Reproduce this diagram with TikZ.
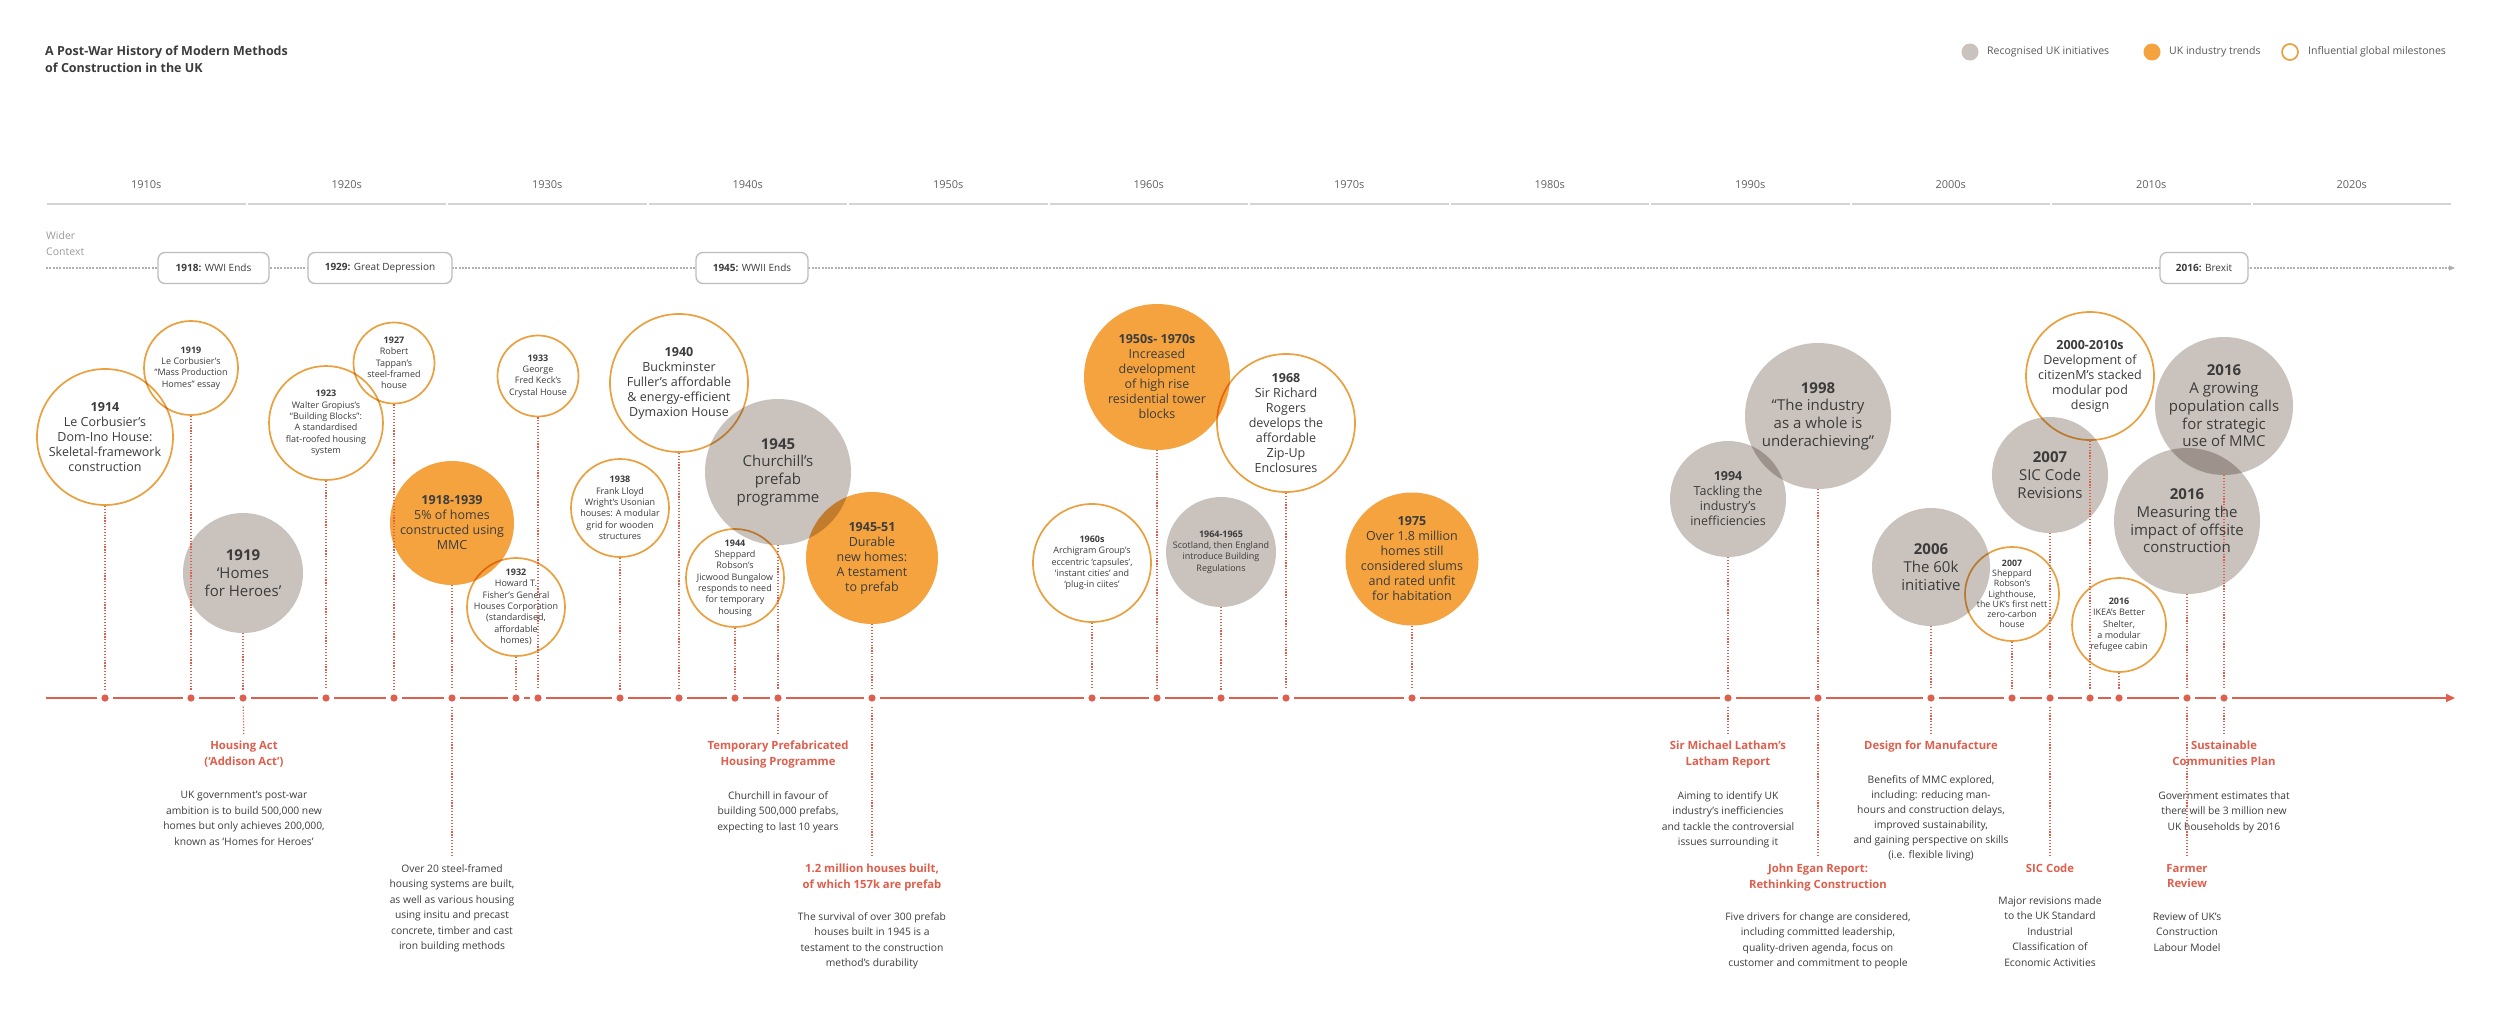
\documentclass[tikz,border=0pt]{standalone}
\usepackage{fontspec}
\setmainfont{Open Sans}
\usetikzlibrary{arrows.meta}
\definecolor{org}{HTML}{F5A33F}
\definecolor{orgl}{HTML}{EBA040}
\definecolor{gry}{HTML}{C9C2BD}
\definecolor{rd}{HTML}{DE5F4D}
\definecolor{txt}{HTML}{3C3C3C}
\definecolor{lgry}{HTML}{D4D4D4}
\definecolor{mgry}{HTML}{9C9C9C}
\definecolor{bgry}{HTML}{BDBDBD}
\tikzset{
  oc/.style={circle, draw=orgl, line width=1.7pt, fill=white, inner sep=0pt},
  fc/.style={circle, fill=org, inner sep=0pt},
  gc/.style={circle, fill=gry, inner sep=0pt},
  tS/.style={align=center, text=txt, inner sep=0pt, font=\fontsize{9}{11.3}\selectfont},
  tM/.style={align=center, text=txt, inner sep=0pt, font=\fontsize{12.5}{15}\selectfont},
  tL/.style={align=center, text=txt, inner sep=0pt, font=\fontsize{15}{17.7}\selectfont},
  dl/.style={rd, line width=1.2pt, dash pattern=on 1.2pt off 1.7pt},
  lab/.style={align=center, text=rd, inner sep=0pt, anchor=north, font=\bfseries\fontsize{11.3}{15.5}\selectfont},
  body/.style={align=center, text=txt, inner sep=0pt, anchor=north, font=\fontsize{10.3}{15.5}\selectfont},
  ctxbox/.style={draw=bgry, line width=1.3pt, fill=white, rounded corners=7pt, minimum height=31pt, inner sep=0pt, text=txt, font=\fontsize{10}{12}\selectfont},
  leg/.style={anchor=west, inner sep=0pt, text=txt!85, font=\fontsize{10.5}{12}\selectfont},
}
\begin{document}
\begin{tikzpicture}[x=1pt,y=-1pt]
\fill[white] (0,0) rectangle (2500,1031);
\useasboundingbox (0,0) rectangle (2500,1031);

% title
\node[anchor=north west, align=left, inner sep=0pt, text=txt, font=\bfseries\fontsize{12.5}{17}\selectfont] (title) at (45,46) {A Post-War History of Modern Methods\\of Construction in the UK};

% legend
\node[gc, minimum size=17pt] (lg1) at (1970,52) {};
\node[leg] (lt1) at (1987,52) {Recognised UK initiatives};
\node[fc, minimum size=17pt] (lg2) at (2152,52) {};
\node[leg] (lt2) at (2169,52) {UK industry trends};
\node[oc, minimum size=16pt] (lg3) at (2290,52) {};
\node[leg] (lt3) at (2308,52) {Influential global milestones};

% decades
\foreach \i/\d in {0/1910s,1/1920s,2/1930s,3/1940s,4/1950s,5/1960s,6/1970s,7/1980s,8/1990s,9/2000s,10/2010s,11/2020s}{
  \node[inner sep=0pt, text=txt!80, font=\fontsize{11}{13}\selectfont] (dec\i) at ({146.25+200.5*\i},185) {\d};
  \draw[lgry, line width=2.2pt] ({46+200.5*\i+1},204) -- ({46+200.5*(\i+1)-1},204);
}

% wider context
\node[anchor=north west, align=left, inner sep=0pt, text=mgry, font=\fontsize{10.5}{16}\selectfont] (wc) at (46,231) {Wider\\Context};
\coordinate (cs) at (46,268);
\coordinate (ce) at (2455,268);
\draw[mgry!80, line width=1.1pt, dash pattern=on 2pt off 1.3pt, -{Triangle[length=6pt,width=5pt]}] (cs) -- (ce);
\node[ctxbox, minimum width=111pt] (w1918) at (213.5,268) {\textbf{1918:} WWI Ends};
\node[ctxbox, minimum width=144pt] (w1929) at (380,268) {\textbf{1929:} Great Depression};
\node[ctxbox, minimum width=112pt] (w1945) at (752,268) {\textbf{1945:} WWII Ends};
\node[ctxbox, minimum width=88pt] (w2016) at (2204,268) {\textbf{2016:} Brexit};

% timeline
\coordinate (tl) at (0,698);
\coordinate (tls) at (46,698);
\coordinate (tle) at (2455,698);
\draw[rd, line width=1.8pt, -{Triangle[length=9pt,width=8pt]}] (tls) -- (tle);

% circles
\begin{scope}[blend mode=multiply]
\node[oc, minimum size=136pt] (c1914) at (105,437) {};
\node[oc, minimum size=94pt] (c1919a) at (191,368) {};
\node[gc, minimum size=120pt] (c1919b) at (243,573) {};
\node[oc, minimum size=114pt] (c1923) at (326,423) {};
\node[oc, minimum size=81pt] (c1927) at (394,363) {};
\node[fc, minimum size=124pt] (c1918) at (452,523) {};
\node[oc, minimum size=98pt] (c1932) at (516,607) {};
\node[oc, minimum size=81pt] (c1933) at (538,376) {};
\node[oc, minimum size=98pt] (c1938) at (620,508) {};
\node[oc, minimum size=138pt] (c1940) at (679,383) {};
\node[gc, minimum size=146pt] (c1945) at (778,472) {};
\node[oc, minimum size=98pt] (c1944) at (735,578) {};
\node[fc, minimum size=132pt] (c1951) at (872,558) {};
\node[oc, minimum size=118pt] (c1960) at (1092,563) {};
\node[fc, minimum size=146pt] (c1950) at (1157,377) {};
\node[gc, minimum size=110pt] (c1964) at (1221,552) {};
\node[oc, minimum size=138pt] (c1968) at (1286,423) {};
\node[fc, minimum size=133pt] (c1975) at (1412,559) {};
\node[gc, minimum size=116pt] (c1994) at (1728,499) {};
\node[gc, minimum size=146pt] (c1998) at (1818,416) {};
\node[gc, minimum size=118pt] (c2006) at (1931,567) {};
\node[oc, minimum size=94pt] (c2007a) at (2012,594) {};
\node[gc, minimum size=116pt] (c2007b) at (2050,475) {};
\node[oc, minimum size=128pt] (c2000) at (2090,376) {};
\node[gc, minimum size=138pt] (c2016a) at (2224,406) {};
\node[gc, minimum size=146pt] (c2016b) at (2187,521) {};
\node[oc, minimum size=94pt] (c2016c) at (2119,625) {};
\end{scope}

% bottom texts
\node[lab] (lHA) at (244,741) {Housing Act\\(‘Addison Act’)};
\node[body] (bHA) at (244,791) {UK government’s post-war\\ambition is to build 500,000 new\\homes but only achieves 200,000,\\known as ‘Homes for Heroes’};
\node[body] (bSteel) at (452,864) {Over 20 steel-framed\\housing systems are built,\\as well as various housing\\using insitu and precast\\concrete, timber and cast\\iron building methods};
\node[lab] (lTP) at (778,741) {Temporary Prefabricated\\Housing Programme};
\node[body] (bTP) at (778,791) {Churchill in favour of\\building 500,000 prefabs,\\expecting to last 10 years};
\node[lab] (lMil) at (872,864) {1.2 million houses built,\\of which 157k are prefab};
\node[body] (bMil) at (872,912) {The survival of over 300 prefab\\houses built in 1945 is a\\testament to the construction\\method’s durability};
\node[lab] (lLat) at (1728,741) {Sir Michael Latham’s\\Latham Report};
\node[body] (bLat) at (1728,791) {Aiming to identify UK\\industry’s inefficiencies\\and tackle the controversial\\issues surrounding it};
\node[lab] (lDfM) at (1931,741) {Design for Manufacture};
\node[body, font=\fontsize{10.3}{15}\selectfont] (bDfM) at (1931,775) {Benefits of MMC explored,\\including: reducing man-\\hours and construction delays,\\improved sustainability,\\and gaining perspective on skills\\(i.e. flexible living)};
\node[lab] (lEgan) at (1818,864) {John Egan Report:\\Rethinking Construction};
\node[body] (bEgan) at (1818,912) {Five drivers for change are considered,\\including committed leadership,\\quality-driven agenda, focus on\\customer and commitment to people};
\node[lab] (lSIC) at (2050,864) {SIC Code};
\node[body] (bSIC) at (2050,896) {Major revisions made\\to the UK Standard\\Industrial\\Classification of\\Economic Activities};
\node[lab] (lSus) at (2224,741) {Sustainable\\Communities Plan};
\node[body] (bSus) at (2224,791) {Government estimates that\\there will be 3 million new\\UK households by 2016};
\node[lab] (lFar) at (2187,864) {Farmer\\Review};
\node[body] (bFar) at (2187,912) {Review of UK’s\\Construction\\Labour Model};

% dotted connectors
\foreach \n in {1914,1919a,1919b,1923,1927,1918,1932,1933,1938,1940,1945,1944,1951,1960,1950,1964,1968,1975,1994,1998,2006,2007a,2007b,2000,2016a,2016b,2016c}{
  \coordinate (d\n) at (c\n.south |- tl);
  \draw[dl] (c\n.south) -- (d\n);
}
\draw[dl, shorten >=6pt] (d1919b) -- (lHA.north);
\draw[dl, shorten >=8pt] (d1918) -- (bSteel.north);
\draw[dl, shorten >=6pt] (d1945) -- (lTP.north);
\draw[dl, shorten >=8pt] (d1951) -- (lMil.north);
\draw[dl, shorten >=6pt] (d1994) -- (lLat.north);
\draw[dl, shorten >=8pt] (d1998) -- (lEgan.north);
\draw[dl, shorten >=6pt] (d2006) -- (lDfM.north);
\draw[dl, shorten >=8pt] (d2007b) -- (lSIC.north);
\draw[dl, shorten >=6pt] (d2016a) -- (lSus.north);
\draw[dl, shorten >=8pt] (d2016b) -- (lFar.north);

% dots
\foreach \n in {1914,1919a,1919b,1923,1927,1918,1932,1933,1938,1940,1945,1944,1951,1960,1950,1964,1968,1975,1994,1998,2006,2007a,2007b,2000,2016a,2016b,2016c}{
  \fill[white] (d\n) circle (8pt);
  \fill[rd] (d\n) circle (3.6pt);
}

% circle texts
\node[tM] (t1914) at (c1914) {\textbf{1914}\\Le Corbusier’s\\Dom-Ino House:\\Skeletal-framework\\construction};
\node[tS] (t1919a) at (c1919a) {\textbf{1919}\\Le Corbusier’s\\“Mass Production\\Homes” essay};
\node[tL] (t1919b) at (c1919b) {\textbf{1919}\\‘Homes\\for Heroes’};
\node[tS] (t1923) at (c1923) {\textbf{1923}\\Walter Gropius’s\\“Building Blocks”:\\A standardised\\flat-roofed housing\\system};
\node[tS] (t1927) at (c1927) {\textbf{1927}\\Robert\\Tappan’s\\steel-framed\\house};
\node[tM] (t1918) at (c1918) {\textbf{1918-1939}\\5\% of homes\\constructed using\\MMC};
\node[tS] (t1932) at (c1932) {\textbf{1932}\\Howard T.\\Fisher’s General\\Houses Corporation\\(standardised,\\affordable\\homes)};
\node[tS] (t1933) at (c1933) {\textbf{1933}\\George\\Fred Keck’s\\Crystal House};
\node[tS] (t1938) at (c1938) {\textbf{1938}\\Frank Lloyd\\Wright’s Usonian\\houses: A modular\\grid for wooden\\structures};
\node[tM] (t1940) at (c1940) {\textbf{1940}\\Buckminster\\Fuller’s affordable\\\& energy-efficient\\Dymaxion House};
\node[tL] (t1945) at (c1945) {\textbf{1945}\\Churchill’s\\prefab\\programme};
\node[tS] (t1944) at (c1944) {\textbf{1944}\\Sheppard\\Robson’s\\Jicwood Bungalow\\responds to need\\for temporary\\housing};
\node[tM] (t1951) at (c1951) {\textbf{1945-51}\\Durable\\new homes:\\A testament\\to prefab};
\node[tS] (t1960) at (c1960) {\textbf{1960s}\\Archigram Group’s\\eccentric ‘capsules’,\\‘instant cities’ and\\‘plug-in ciites’};
\node[tM] (t1950) at (c1950) {\textbf{1950s- 1970s}\\Increased\\development\\of high rise\\residential tower\\blocks};
\node[tS] (t1964) at (c1964) {\textbf{1964-1965}\\Scotland, then England\\introduce Building\\Regulations};
\node[tM] (t1968) at (c1968) {\textbf{1968}\\Sir Richard\\Rogers\\develops the\\affordable\\Zip-Up\\Enclosures};
\node[tM] (t1975) at (c1975) {\textbf{1975}\\Over 1.8 million\\homes still\\considered slums\\and rated unfit\\for habitation};
\node[tM] (t1994) at (c1994) {\textbf{1994}\\Tackling the\\industry’s\\inefficiencies};
\node[tL] (t1998) at (c1998) {\textbf{1998}\\“The industry\\as a whole is\\underachieving”};
\node[tL] (t2006) at (c2006) {\textbf{2006}\\The 60k\\initiative};
\node[tS, font=\fontsize{8.8}{10.2}\selectfont] (t2007a) at (c2007a) {\textbf{2007}\\Sheppard\\Robson’s\\Lighthouse,\\the UK’s first nett\\zero-carbon\\house};
\node[tL] (t2007b) at (c2007b) {\textbf{2007}\\SIC Code\\Revisions};
\node[tM] (t2000) at (c2000) {\textbf{2000-2010s}\\Development of\\citizenM’s stacked\\modular pod\\design};
\node[tL] (t2016a) at (c2016a) {\textbf{2016}\\A growing\\population calls\\for strategic\\use of MMC};
\node[tL] (t2016b) at (c2016b) {\textbf{2016}\\Measuring the\\impact of offsite\\construction};
\node[tS] (t2016c) at (c2016c) {\textbf{2016}\\IKEA’s Better\\Shelter,\\a modular\\refugee cabin};
\end{tikzpicture}
\end{document}
